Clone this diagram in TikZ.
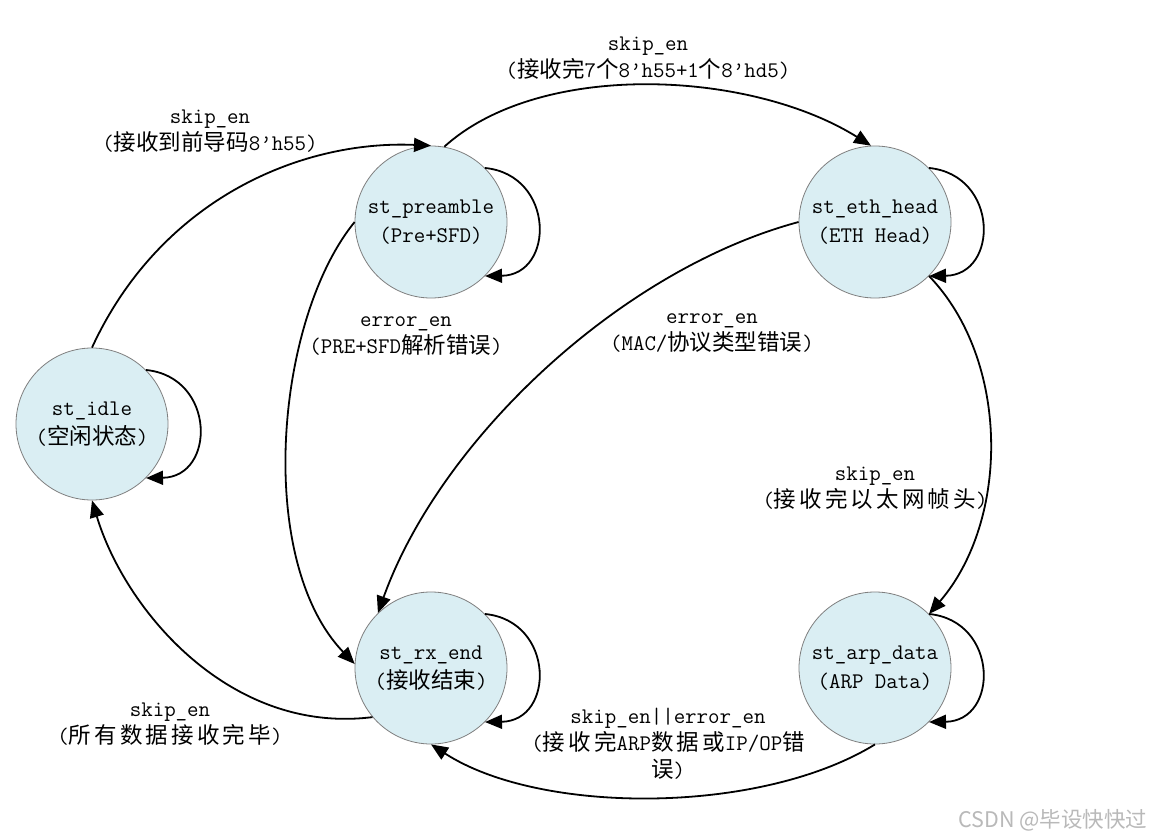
\documentclass[tikz,border=0pt]{standalone}
\usepackage{fontspec}
\newfontfamily\zhf{Noto Sans CJK SC}
\newfontfamily\zhwf[LetterSpace=14]{Noto Sans CJK SC}
\newcommand\zh[1]{{\zhf\fontsize{22.5}{27}\selectfont #1}}
\newcommand\zw[1]{{\zhwf\fontsize{22.5}{27}\selectfont #1}}
\usetikzlibrary{arrows.meta}
\definecolor{stfill}{RGB}{218,238,243}
\definecolor{stline}{RGB}{127,127,127}
\begin{document}
\begin{tikzpicture}[x=1pt,y=-1pt,
  stnode/.style={circle, draw=stline, fill=stfill, minimum size=152pt, inner sep=0pt,
    line width=0.8pt, align=center, font=\ttfamily\fontsize{22.3}{29}\selectfont},
  tr/.style={line width=1.8pt, -{Triangle[length=17pt,width=14pt]}},
  lbl/.style={align=center, inner sep=0pt, font=\ttfamily\fontsize{22.3}{27}\selectfont}]
\fill[white] (0,0) rectangle (1156,840);
\useasboundingbox (0,0) rectangle (1156,840);

\node[stnode] (idle) at (92,424) {st\_idle\\(\zh{空闲状态})};
\node[stnode] (pre) at (431,222) {st\_preamble\\(Pre+SFD)};
\node[stnode] (eth) at (875,222) {st\_eth\_head\\(ETH Head)};
\node[stnode] (rx) at (431,668) {st\_rx\_end\\(\zh{接收结束})};
\node[stnode] (arp) at (875,668) {st\_arp\_data\\(ARP Data)};

\foreach \n in {idle,pre,eth,rx,arp}
  \draw[tr] (\n.45) .. controls +(70,7) and +(70,-1) .. (\n.-45);

\draw[tr] (idle.north) .. controls (160,200) and (300,140) .. (pre.north);
\draw[tr] (pre.80) .. controls (540,60) and (750,70) .. (eth.93);
\draw[tr] (pre.west) .. controls (275,320) and (255,560) .. (rx.177);
\draw[tr] (eth.west) .. controls (620,270) and (440,440) .. (rx.134);
\draw[tr] (eth.-45) .. controls (1010,360) and (1010,520) .. (arp.45);
\draw[tr] (arp.south) .. controls (760,815) and (540,815) .. (rx.south);
\draw[tr] (rx.220) .. controls (230,735) and (125,610) .. (idle.south);

\node[lbl] (l1) at (210,131) {skip\_en\\(\zh{接收到前导码}8’h55)};
\node[lbl] (l2) at (648,58) {skip\_en\\(\zh{接收完}7\zh{个}8’h55+1\zh{个}8’hd5)};
\node[lbl] (l3) at (406,336) {error\_en\\(PRE+SFD\zh{解析错误})};
\node[lbl] (l4) at (712,333) {error\_en\\(MAC/\zh{协议类型错误})};
\node[lbl] (l5) at (875,488) {skip\_en\\(\zw{接收完以太网帧头})};
\node[lbl] (l6) at (170,724) {skip\_en\\(\zw{所有数据接收完毕})};
\node[lbl] (l7) at (668,744) {skip\_en||error\_en\\(\zw{接收完}ARP\zw{数据或}IP/OP\zw{错}\\\zw{误})};

\node[inner sep=0pt, text=gray!55, font=\zhf\fontsize{21.5}{24}\selectfont] (wm) at (1053,820) {CSDN @毕设快快过};
\end{tikzpicture}
\end{document}
